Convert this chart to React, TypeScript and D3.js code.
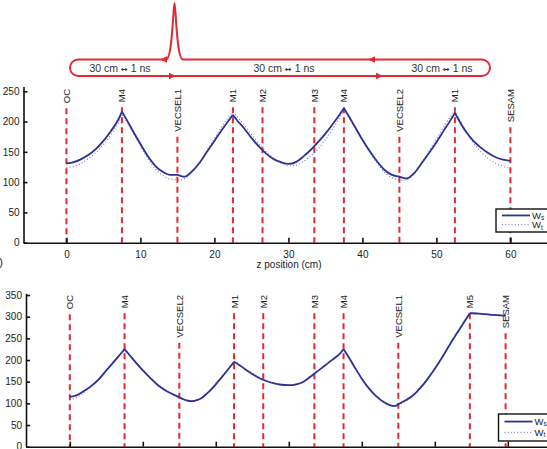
import * as React from "react";
import * as d3 from "d3";

// mirror labels and their z positions (cm)
const topMirrors = ["OC", "M4", "VECSEL1", "M1", "M2", "M3", "M4", "VECSEL2", "M1", "SESAM"];
const topMirrorZ = [0, 7.5, 15, 22.5, 26.5, 33.5, 37.5, 45, 52.5, 60];
const botMirrors = ["OC", "M4", "VECSEL2", "M1", "M2", "M3", "M4", "VECSEL1", "M5", "SESAM"];
const botMirrorZ = [0, 7.5, 15, 22.5, 26.5, 33.5, 37.5, 45, 54.8, 59.7];

// curved mirrors -> kinks in the beam radius
const topCurvedZ = [7.5, 22.5, 37.5, 52.5];
const botCurvedZ = [7.5, 22.5, 37.5, 54.8];

// top panel: beam radius (um)
const topZ = [
  0, 1, 2, 3, 4, 5, 6, 7, 7.5,
  8, 9, 10, 11, 12, 13, 14, 15, 15.5, 16, 17, 18, 19, 20, 21, 22, 22.5,
  23, 24, 25, 26, 27, 28, 29, 30, 31, 32, 33, 34, 35, 36, 37, 37.5,
  38, 39, 40, 41, 42, 43, 44, 45, 45.5, 46, 47, 48, 49, 50, 51, 52, 52.5,
  53, 54, 55, 56, 57, 58, 59, 60,
];
const topWs = [
  131, 133, 138, 145, 155, 168, 184, 203, 216,
  206, 184, 163, 143, 127, 117, 112, 112, 110, 109, 118, 132, 150, 168, 186, 203, 211,
  203, 189, 173, 159, 147, 138, 133, 130, 133, 142, 153, 166, 180, 196, 213, 222,
  212, 191, 170, 151, 134, 120, 112, 109, 107, 106, 115, 131, 148, 166, 185, 204, 214,
  203, 183, 168, 157, 148, 141, 137, 135,
];
const topWt = [
  124, 126, 131, 139, 149, 162, 178, 198, 211,
  203, 182, 160, 139, 122, 111, 105, 104, 104, 106, 116, 132, 152, 172, 192, 209, 216,
  209, 195, 179, 164, 150, 139, 131, 127, 128, 134, 143, 155, 170, 188, 208, 218,
  210, 190, 169, 149, 131, 116, 107, 104, 103, 104, 114, 131, 151, 171, 191, 210, 218,
  206, 184, 165, 150, 139, 131, 126, 123,
];

// bottom panel
const botZ = [
  0, 1, 2, 3, 4, 5, 6, 7, 7.5,
  8, 9, 10, 11, 12, 13, 14, 15, 15.5, 16, 16.7, 17.5, 18, 19, 20, 21, 22, 22.5,
  23, 24, 25, 26, 27, 28, 29, 30, 31, 32, 33, 34, 35, 36, 37, 37.5,
  38, 39, 40, 41, 42, 43, 44, 44.5, 45, 46, 47, 48, 49, 50, 51, 52, 53, 54, 54.8,
  55, 56, 57, 58, 59, 59.7,
];
const botWs = [
  115, 119, 129, 141, 156, 176, 195, 215, 225,
  215, 195, 176, 159, 143, 131, 122, 114, 110, 107, 105, 108, 112, 126, 144, 164, 185, 196,
  191, 179, 168, 158, 151, 146, 143, 142, 144, 150, 162, 175, 188, 201, 215, 225,
  212, 184, 157, 134, 116, 103, 95, 94, 98, 107, 118, 135, 156, 180, 206, 234, 261, 287, 308,
  308, 307, 306, 304, 303, 302,
];
const botWt = [
  109, 114, 126, 140, 157, 177, 197, 216, 226,
  216, 196, 178, 160, 145, 132, 122, 113, 109, 105, 104, 107, 112, 127, 146, 166, 186, 197,
  192, 180, 170, 160, 152, 146, 142, 141, 143, 149, 161, 175, 188, 202, 216, 226,
  213, 185, 158, 135, 116, 102, 94, 93, 96, 106, 118, 136, 157, 181, 207, 235, 262, 288, 309,
  309, 308, 307, 305, 304, 303,
];

const xTicks = [0, 10, 20, 30, 40, 50, 60];
const topYTicks = [0, 50, 100, 150, 200, 250];
const botYTicks = [0, 50, 100, 150, 200, 250, 300, 350];
const legendNames = [["W", "s"], ["W", "t"]];
const loopLabel = ["30 cm ", "\u2194", " 1 ns"];

const FONT = "'Liberation Sans', Arial, sans-serif";
const RED = "#e4282f";
const WS = "#2e3192";
const WT = "#7a7fe6";

function segments(z, w, curved) {
  const segs = [];
  let cur = [];
  z.forEach((zz, i) => {
    cur.push([zz, w[i]]);
    if (curved.includes(zz) && i > 0 && i < z.length - 1) {
      segs.push(cur);
      cur = [[zz, w[i]]];
    }
  });
  segs.push(cur);
  return segs;
}

function drawPanel(svg, o) {
  const g = svg.append("g");
  const { x, y } = o;
  const bottom = y.range()[0];

  // mirror labels + dashed lines
  o.mirrors.forEach((name, i) => {
    const mx = x(o.mirrorZ[i]);
    const t = g.append("text")
      .attr("transform", `translate(${mx},${o.labelTop}) rotate(-90)`)
      .attr("text-anchor", "end")
      .attr("dominant-baseline", "central")
      .attr("font-family", FONT)
      .attr("font-size", 9.5)
      .attr("fill", "#222")
      .text(name);
    const len = t.node().getComputedTextLength();
    g.append("line")
      .attr("x1", mx).attr("x2", mx)
      .attr("y1", o.labelTop + len + 5).attr("y2", bottom)
      .attr("stroke", RED)
      .attr("stroke-width", 2)
      .attr("stroke-dasharray", "6,4");
  });

  const line = d3.line().x(d => x(d[0])).y(d => y(d[1])).curve(d3.curveMonotoneX);

  segments(o.z, o.wt, o.curved).forEach(s => {
    g.append("path").attr("d", line(s)).attr("fill", "none")
      .attr("stroke", WT).attr("stroke-width", 1.2).attr("stroke-dasharray", "1,2.2");
  });
  segments(o.z, o.ws, o.curved).forEach(s => {
    g.append("path").attr("d", line(s)).attr("fill", "none")
      .attr("stroke", WS).attr("stroke-width", 1.8);
  });

  // axes
  const xa = g.append("g")
    .attr("transform", `translate(0,${bottom})`)
    .call(d3.axisBottom(x).tickValues(xTicks).tickSize(-5).tickSizeOuter(0).tickPadding(8));
  if (!o.xLabels) xa.selectAll("text").remove();
  const ya = g.append("g")
    .attr("transform", `translate(${x.range()[0]},0)`)
    .call(d3.axisLeft(y).tickValues(o.yTicks).tickSize(-4).tickSizeOuter(0).tickPadding(4));
  [xa, ya].forEach(a => {
    a.attr("font-family", FONT).attr("font-size", 10);
    a.selectAll("path,line").attr("stroke", "#111").attr("stroke-width", 1.6);
    a.selectAll("text").attr("fill", "#222");
  });

  // legend
  const L = o.legend;
  g.append("rect")
    .attr("x", L.x).attr("y", L.y).attr("width", 80).attr("height", L.h)
    .attr("fill", "white").attr("stroke", "#111").attr("stroke-width", 1.4);
  legendNames.forEach((nm, i) => {
    const ly = L.y + L.h * (i === 0 ? 0.28 : 0.68);
    g.append("line")
      .attr("x1", L.x + 6).attr("x2", L.x + 34)
      .attr("y1", ly).attr("y2", ly)
      .attr("stroke", i === 0 ? WS : WT)
      .attr("stroke-width", i === 0 ? 1.8 : 1.2)
      .attr("stroke-dasharray", i === 0 ? null : "1,2.2");
    const t = g.append("text")
      .attr("x", L.x + 36).attr("y", ly + 3.4)
      .attr("font-family", FONT).attr("font-size", 9.5).attr("fill", "#222");
    t.append("tspan").text(nm[0]);
    t.append("tspan").attr("font-size", 6.5).attr("dy", 1.5).text(nm[1]);
  });
}

function drawLoop(svg) {
  const g = svg.append("g");
  const yT = 59.5, yB = 76, r = (yB - yT) / 2, xL = 70, xR = 490;
  const p = d3.path();
  p.moveTo(183, yT);
  p.lineTo(xR - r, yT);
  p.arc(xR - r, yT + r, r, -Math.PI / 2, Math.PI / 2);
  p.lineTo(xL + r, yB);
  p.arc(xL + r, yT + r, r, Math.PI / 2, (3 * Math.PI) / 2);
  p.lineTo(166, yT);
  p.bezierCurveTo(172.6, yT, 173.2, 3, 174.5, 3);
  p.bezierCurveTo(175.8, 3, 176.4, yT, 183, yT);
  g.append("path").attr("d", p.toString()).attr("fill", "none")
    .attr("stroke", RED).attr("stroke-width", 2);

  const arrows = [[160, yT, -1], [368, yT, -1], [176, yB, 1], [383, yB, 1]];
  arrows.forEach(([ax, ay, dir]) => {
    g.append("path")
      .attr("d", `M${ax},${ay} L${ax - dir * 7},${ay - 3.2} L${ax - dir * 7},${ay + 3.2} Z`)
      .attr("fill", RED);
  });

  [120, 284, 442].forEach(cx => {
    const t = g.append("text")
      .attr("x", cx).attr("y", 71.5)
      .attr("text-anchor", "middle")
      .attr("font-family", FONT).attr("font-size", 10.5).attr("fill", "#333");
    t.append("tspan").text(loopLabel[0]);
    t.append("tspan").attr("font-family", "'DejaVu Sans', sans-serif")
      .attr("font-weight", "bold").attr("font-size", 8).text(loopLabel[1]);
    t.append("tspan").text(loopLabel[2]);
  });
}

function drawChart(svgRef) {
  const svg = d3.select(svgRef.current);
  svg.selectAll("*").remove();

  drawLoop(svg);

  const xTop = d3.scaleLinear().domain([-5.8, 66]).range([23.5, 554.8]);
  const yTop = d3.scaleLinear().domain([0, 258]).range([242.7, 86.4]);
  drawPanel(svg, {
    x: xTop, y: yTop, mirrors: topMirrors, mirrorZ: topMirrorZ, curved: topCurvedZ,
    z: topZ, ws: topWs, wt: topWt, yTicks: topYTicks, labelTop: 89, xLabels: true,
    legend: { x: 496, y: 209, h: 23 },
  });
  svg.append("text")
    .attr("x", 289).attr("y", 268)
    .attr("text-anchor", "middle")
    .attr("font-family", FONT).attr("font-size", 10).attr("fill", "#222")
    .text("z position (cm)");

  const xBot = d3.scaleLinear().domain([-6, 66]).range([26, 551.6]);
  const yBot = d3.scaleLinear().domain([0, 354]).range([446.7, 293.3]);
  drawPanel(svg, {
    x: xBot, y: yBot, mirrors: botMirrors, mirrorZ: botMirrorZ, curved: botCurvedZ,
    z: botZ, ws: botWs, wt: botWt, yTicks: botYTicks, labelTop: 295, xLabels: false,
    legend: { x: 498.5, y: 414, h: 27 },
  });

  svg.append("text")
    .attr("x", 3).attr("y", 266)
    .attr("text-anchor", "end")
    .attr("font-family", FONT).attr("font-size", 11).attr("fill", "#222")
    .text("(b)");
}

const App = () => {
  const svgRef = React.useRef(null);

  React.useEffect(() => {
    drawChart(svgRef);
  }, [svgRef]);

  return (
    <svg
      ref={svgRef}
      width={547}
      height={449}
      style={{ position: "absolute", left: 0, top: 0, background: "white" }}
    />
  );
};

export default App;
